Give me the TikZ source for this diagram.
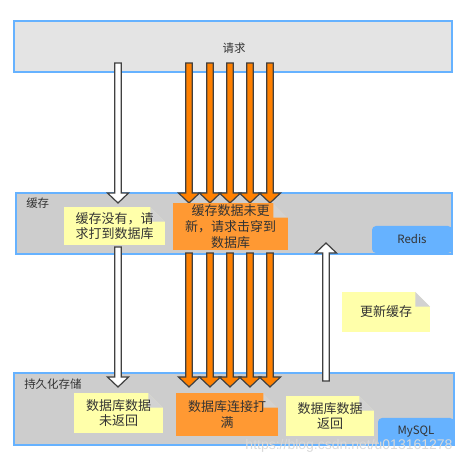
\documentclass[tikz,border=0pt]{standalone}
\usepackage{fontspec}
\setmainfont{Noto Sans CJK SC}
\newfontfamily\wmfont{Liberation Sans}
\usetikzlibrary{fit,calc}
\definecolor{boxblue}{HTML}{66B2FF}
\definecolor{reqgray}{HTML}{E4E4E4}
\definecolor{cachegray}{HTML}{CDCDCD}
\definecolor{foldgray}{HTML}{D2D2D2}
\definecolor{noteyellow}{HTML}{FFFFAA}
\definecolor{noteorange}{HTML}{FF9933}
\definecolor{arroworange}{HTML}{FF8000}
\definecolor{arrowdark}{HTML}{404040}
\definecolor{textgray}{HTML}{333333}

\begin{document}
\begin{tikzpicture}[x=0.75pt,y=-0.75pt, inner sep=0pt, text=textgray,
  font=\fontsize{9.75}{11.8}\selectfont,
  layer/.style={draw=boxblue, line width=1.2pt, inner sep=0pt},
  db/.style={fill=boxblue, rounded corners=3pt, inner sep=0pt, font=\fontsize{8.6}{10}\selectfont},
  note/.style 2 args={fill=#1, align=center, inner sep=0pt,
    path picture={
      \fill[#2] (path picture bounding box.north east) -- ++(-11pt,0) -- ++(11pt,-11pt) -- cycle;
      \fill[foldgray] (path picture bounding box.north east) ++(-11pt,0) -- ++(0,-11pt) -- ++(11pt,0) -- cycle;
    }},
  blockarrow/.style={draw=arrowdark, line width=0.9pt, fill=#1,
    to path={let \p1=(\tikztostart), \p2=(\tikztotarget), \n1={sign(\y2-\y1)} in
      ({\x1-2.4pt},\y1) -- ({\x1-2.4pt},{\y2-\n1*7.5pt}) -- ({\x1-7.9pt},{\y2-\n1*7.5pt})
      -- (\x2,\y2) -- ({\x1+7.9pt},{\y2-\n1*7.5pt}) -- ({\x1+2.4pt},{\y2-\n1*7.5pt})
      -- ({\x1+2.4pt},\y1) -- cycle}}]
\useasboundingbox (0,0) rectangle (475,466);

\node (req) [layer, fill=reqgray, fit={(14,21) (452,72)}] {};
\node (cache) [layer, fill=cachegray, fit={(16,193) (452,254)}] {};
\node (store) [layer, fill=cachegray, fit={(14,373) (454,445)}] {};
\node (reqlabel) at (234,48) [font=\fontsize{8.6}{10}\selectfont] {请求};
\node (cachelabel) at (26,203) [anchor=west, font=\fontsize{8.6}{10}\selectfont] {缓存};
\node (storelabel) at (24,384) [anchor=west, font=\fontsize{8.6}{10}\selectfont] {持久化存储};
\node (redis) [db, fit={(372,226) (452,253)}] {};
\node at (redis.center) [font=\fontsize{8.6}{10}\selectfont] {Redis};
\node (mysql) [db, fit={(378,418) (454,445)}] {};
\node at (mysql.center) [font=\fontsize{8.6}{10}\selectfont] {MySQL};

\coordinate (w1) at (118,63);
\coordinate (w1t) at (118,203);
\coordinate (w2) at (118,247);
\coordinate (w2t) at (118,387);
\coordinate (up) at (326,381);
\coordinate (upt) at (326,243);
\draw[blockarrow=white] (w1) to (w1t);
\draw[blockarrow=white] (w2) to (w2t);
\draw[blockarrow=white] (up) to (upt);
\foreach \i/\x in {1/189,2/210,3/230,4/250,5/270} {
  \coordinate (ot\i) at (\x,63);
  \coordinate (ott\i) at (\x,203);
  \coordinate (ob\i) at (\x,253);
  \coordinate (obt\i) at (\x,387);
  \draw[blockarrow=arroworange] (ot\i) to (ott\i);
  \draw[blockarrow=arroworange] (ob\i) to (obt\i);
}

\node (miss) at (114.5,226) [note={noteyellow}{cachegray}, minimum width=75.75pt, minimum height=28.5pt] {缓存没有，请\\求打到数据库};
\node (stale) at (230.5,226.5) [note={noteorange}{cachegray}, minimum width=86.25pt, minimum height=35.25pt] {缓存数据未更\\新，请求击穿到\\数据库};
\node (refresh) at (386,312) [note={noteyellow}{white}, minimum width=66pt, minimum height=30pt] {更新缓存};
\node (noret) at (118.5,413) [note={noteyellow}{cachegray}, minimum width=66.75pt, minimum height=30pt] {数据库数据\\未返回};
\node (full) at (227,414.5) [note={noteorange}{cachegray}, minimum width=76.5pt, minimum height=32.25pt] {数据库连接打\\满};
\node (ret) at (330,416) [note={noteyellow}{cachegray}, minimum width=66pt, minimum height=30pt] {数据库数据\\返回};

\node (mark) at (349,446) [text=gray!30, font=\wmfont\fontsize{10.5}{12}\selectfont] {https://blog.csdn.net/u013161278};
\end{tikzpicture}
\end{document}
